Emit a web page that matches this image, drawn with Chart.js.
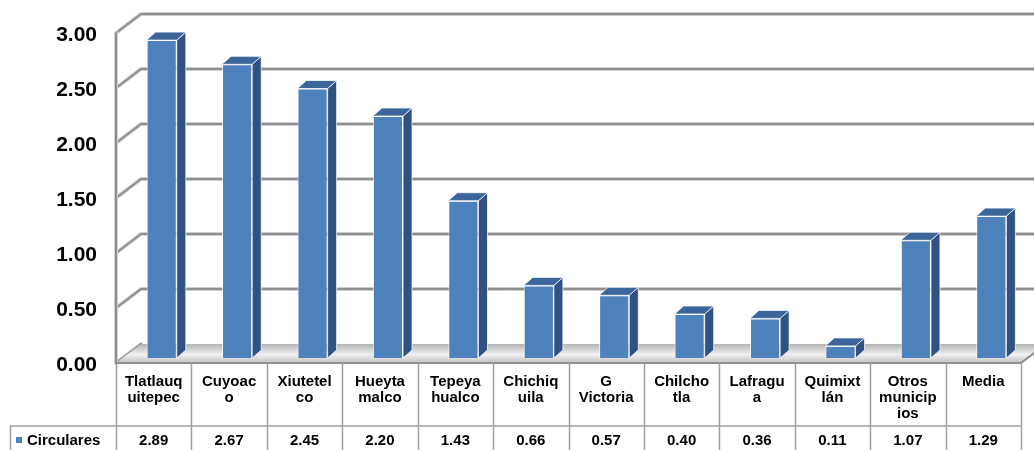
<!DOCTYPE html>
<html>
<head>
<meta charset="utf-8">
<script src="https://cdn.jsdelivr.net/npm/chart.js@4/dist/chart.umd.min.js"></script>
<style>
  html, body { margin: 0; padding: 0; background: #fff; }
  #wrap { width: 1034px; height: 450px; }
</style>
</head>
<body>
<div id="wrap"><canvas id="chart" width="1034" height="450"></canvas></div>
<script>
const categories = [
  ['Tlatlauq', 'uitepec'], ['Cuyoac', 'o'], ['Xiutetel', 'co'], ['Hueyta', 'malco'],
  ['Tepeya', 'hualco'], ['Chichiq', 'uila'], ['G', 'Victoria'], ['Chilcho', 'tla'],
  ['Lafragu', 'a'], ['Quimixt', 'lán'], ['Otros', 'municip', 'ios'], ['Media']
];
const seriesName = 'Circulares';
const circulares = [2.89, 2.67, 2.45, 2.20, 1.43, 0.66, 0.57, 0.40, 0.36, 0.11, 1.07, 1.29];
const yTicks = [0, 0.5, 1, 1.5, 2, 2.5, 3];

const FONT = "'Liberation Sans', Arial, sans-serif";
const FRONT = { dx: -8, dy: 5 };   // table / label plane, relative to bar plane
const BACK = { dx: 17, dy: -14 };  // back wall
const DEPTH = { dx: 9, dy: -8 };   // bar depth

function gridStroke(ctx, draw) {
  ctx.strokeStyle = '#cfcfcf';
  ctx.lineWidth = 4;
  ctx.beginPath(); draw(); ctx.stroke();
  ctx.strokeStyle = '#8f8f8f';
  ctx.lineWidth = 2;
  ctx.beginPath(); draw(); ctx.stroke();
}

const threeD = {
  id: 'threeD',
  beforeDatasetsDraw(chart) {
    const { ctx, chartArea: a, scales: { y } } = chart;
    const fl = a.left + FRONT.dx, fr = a.right + FRONT.dx;
    const bl = a.left + BACK.dx;
    ctx.save();
    ctx.lineCap = 'round';
    yTicks.forEach(v => {
      const py = y.getPixelForValue(v);
      gridStroke(ctx, () => {
        ctx.moveTo(fl, py + FRONT.dy);
        ctx.lineTo(bl, py + BACK.dy);
        if (v > 0) ctx.lineTo(chart.width + 5, py + BACK.dy);
      });
    });
    // left wall front edge
    gridStroke(ctx, () => {
      ctx.moveTo(fl, y.getPixelForValue(3) + FRONT.dy);
      ctx.lineTo(fl, y.getPixelForValue(0) + FRONT.dy);
    });
    // floor
    const y0 = y.getPixelForValue(0);
    const g = ctx.createLinearGradient(0, y0 + BACK.dy, 0, y0 + FRONT.dy);
    g.addColorStop(0, '#b4b4b4');
    g.addColorStop(0.55, '#f0f0f0');
    g.addColorStop(1, '#c2c2c2');
    ctx.fillStyle = g;
    ctx.beginPath();
    ctx.moveTo(fl, y0 + FRONT.dy);
    ctx.lineTo(fr, y0 + FRONT.dy);
    ctx.lineTo(a.right + BACK.dx, y0 + BACK.dy);
    ctx.lineTo(bl, y0 + BACK.dy);
    ctx.closePath();
    ctx.fill();
    ctx.lineWidth = 2;
    ctx.strokeStyle = '#8f8f8f';
    ctx.beginPath();
    ctx.moveTo(fl, y0 + FRONT.dy);
    ctx.lineTo(fr, y0 + FRONT.dy);
    ctx.lineTo(a.right + BACK.dx, y0 + BACK.dy);
    ctx.stroke();
    ctx.restore();
  },
  afterDatasetsDraw(chart) {
    const { ctx } = chart;
    ctx.save();
    ctx.lineWidth = 1;
    ctx.strokeStyle = 'rgba(255,255,255,0.75)';
    chart.getDatasetMeta(0).data.forEach(el => {
      const l = el.x - el.width / 2, r = el.x + el.width / 2;
      // side
      ctx.fillStyle = '#2f5283';
      ctx.beginPath();
      ctx.moveTo(r, el.y);
      ctx.lineTo(r + DEPTH.dx, el.y + DEPTH.dy);
      ctx.lineTo(r + DEPTH.dx, el.base + DEPTH.dy);
      ctx.lineTo(r, el.base);
      ctx.closePath();
      ctx.fill();
      ctx.stroke();
      // top
      ctx.fillStyle = '#3c659b';
      ctx.beginPath();
      ctx.moveTo(l, el.y);
      ctx.lineTo(r, el.y);
      ctx.lineTo(r + DEPTH.dx, el.y + DEPTH.dy);
      ctx.lineTo(l + DEPTH.dx, el.y + DEPTH.dy);
      ctx.closePath();
      ctx.fill();
      ctx.stroke();
    });
    ctx.restore();
  },
  afterDraw(chart) {
    const { ctx, chartArea: a, scales: { x, y } } = chart;
    ctx.save();
    // y labels
    ctx.fillStyle = '#000';
    ctx.font = 'bold 21px ' + FONT;
    ctx.textAlign = 'right';
    ctx.textBaseline = 'middle';
    yTicks.forEach(v => {
      ctx.fillText(v.toFixed(2), 97, y.getPixelForValue(v) + FRONT.dy + 2);
    });
    // data table
    const top = y.getPixelForValue(0) + FRONT.dy;
    const rowY = 426;
    const n = categories.length;
    const step = (a.right - a.left) / n;
    ctx.strokeStyle = '#a0a0a0';
    ctx.lineWidth = 1.5;
    for (let i = 0; i <= n; i++) {
      const px = Math.round(a.left + FRONT.dx + i * step) + 0.5;
      ctx.beginPath();
      ctx.moveTo(px, top);
      ctx.lineTo(px, chart.height);
      ctx.stroke();
    }
    ctx.beginPath();
    ctx.moveTo(10.5, chart.height);
    ctx.lineTo(10.5, rowY);
    ctx.lineTo(a.right + FRONT.dx, rowY);
    ctx.stroke();
    ctx.font = 'bold 15px ' + FONT;
    ctx.textAlign = 'center';
    categories.forEach((lines, i) => {
      const cx = x.getPixelForValue(i) + FRONT.dx;
      lines.forEach((t, j) => ctx.fillText(t, cx, 382 + j * 16));
      ctx.fillText(circulares[i].toFixed(2), cx, 441);
    });
    // legend cell
    ctx.fillStyle = '#4f81bd';
    ctx.fillRect(16, 437, 6, 6);
    ctx.fillStyle = '#000';
    ctx.textAlign = 'left';
    ctx.fillText(seriesName, 27, 441);
    ctx.restore();
  }
};

new Chart(document.getElementById('chart'), {
  type: 'bar',
  data: {
    labels: categories,
    datasets: [{
      label: seriesName,
      data: circulares,
      backgroundColor: '#4f81bd',
      borderColor: 'rgba(255,255,255,0.75)',
      borderWidth: 1,
      barPercentage: 0.4,
      categoryPercentage: 1
    }]
  },
  options: {
    responsive: false,
    animation: false,
    layout: { padding: { left: 124, right: 5, top: 28, bottom: 92 } },
    plugins: { legend: { display: false }, tooltip: { enabled: false } },
    scales: {
      x: { display: false },
      y: { display: false, min: 0, max: 3, ticks: { stepSize: 0.5 } }
    }
  },
  plugins: [threeD]
});
</script>
</body>
</html>
